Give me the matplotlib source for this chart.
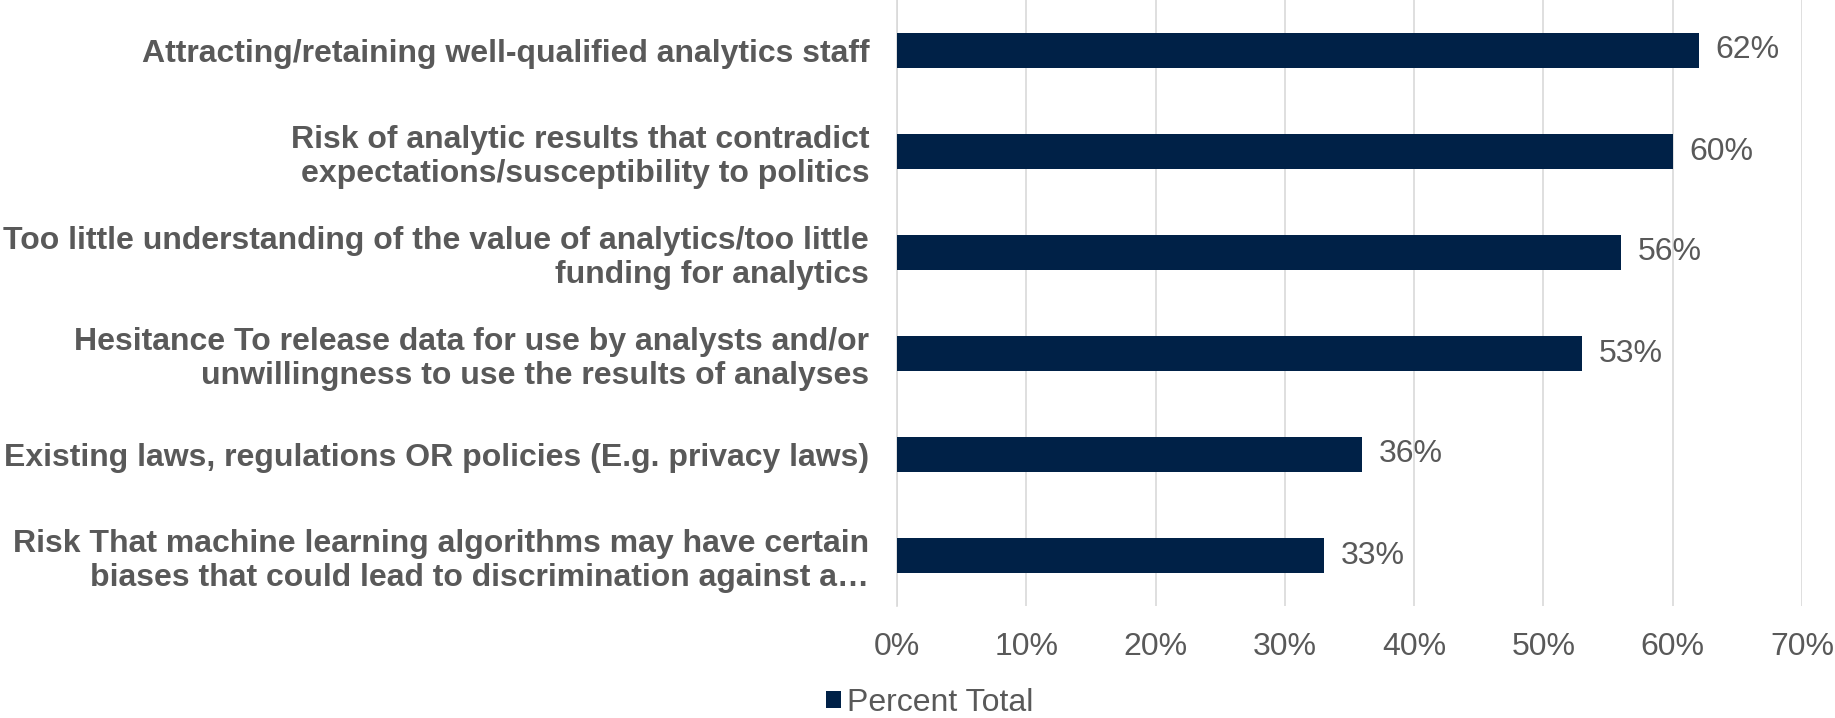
import numpy as np
import matplotlib
matplotlib.use("Agg")
import matplotlib.pyplot as plt
from matplotlib.ticker import MultipleLocator, FuncFormatter

plt.rcParams['font.family'] = ['Liberation Sans', 'DejaVu Sans']

categories = [
    "Attracting/retaining well-qualified analytics staff",
    "Risk of analytic results that contradict\nexpectations/susceptibility to politics",
    "Too little understanding of the value of analytics/too little\nfunding for analytics",
    "Hesitance To release data for use by analysts and/or\nunwillingness to use the results of analyses",
    "Existing laws, regulations OR policies (E.g. privacy laws)",
    "Risk That machine learning algorithms may have certain\nbiases that could lead to discrimination against a\u2026",
]
percent_total = [62, 60, 56, 53, 36, 33]
series_name = "Percent Total"

bar_color = "#002147"
text_gray = "#595959"
grid_gray = "#D9D9D9"
fs = 23

fig = plt.figure(figsize=(18.35, 7.18), dpi=100)
ax = fig.add_axes([897 / 1835, 1 - 606 / 718, (1802 - 897) / 1835, 606 / 718])

y = np.arange(len(categories))
bars = ax.barh(y, percent_total, height=0.35, color=bar_color, label=series_name, zorder=3)
ax.set_ylim(len(categories) - 0.5, -0.5)
ax.set_xlim(0, 70)

ax.set_yticks(y)
ax.set_yticklabels(categories, fontsize=fs, fontweight='bold', color=text_gray,
                   linespacing=1.17)
ax.tick_params(axis='y', length=0, pad=20)
ax.tick_params(axis='x', length=0, pad=19, labelsize=fs, labelcolor=text_gray)
ax.xaxis.set_major_locator(MultipleLocator(10))
ax.xaxis.set_major_formatter(FuncFormatter(lambda v, p: f"{v:.0f}%"))

ax.grid(axis='x', color=grid_gray, linewidth=1.2, zorder=0)
for s in ['top', 'right', 'bottom']:
    ax.spines[s].set_visible(False)
ax.spines['left'].set_color(grid_gray)
ax.spines['left'].set_linewidth(1.2)

for rect, v in zip(bars, percent_total):
    ax.annotate(f"{v}%", (rect.get_width(), rect.get_y() + rect.get_height() / 2),
                xytext=(12, 0), textcoords='offset points',
                va='center', ha='left', fontsize=fs, color=text_gray)

leg = fig.legend(handles=[bars], labels=[series_name], loc='lower center',
                 bbox_to_anchor=(0.5067, 0.0), frameon=False, borderpad=0.0,
                 borderaxespad=0.0, fontsize=fs, handlelength=0.47,
                 handleheight=0.47, handletextpad=0.2)
for t in leg.get_texts():
    t.set_color(text_gray)

fig.savefig("out.png", dpi=100)
